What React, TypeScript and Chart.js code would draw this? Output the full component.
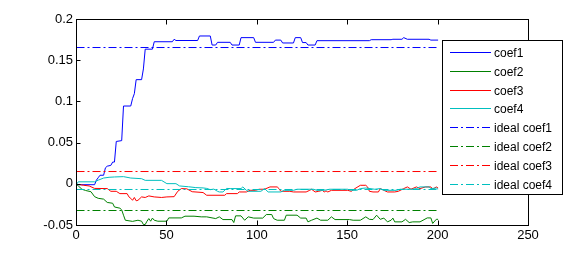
import React, { useEffect, useRef } from "react";
import { Chart, registerables } from "chart.js";
Chart.register(...registerables);

const xTicks = [0, 50, 100, 150, 200, 250];
const yTicks = [-0.05, 0, 0.05, 0.1, 0.15, 0.2];
const seriesNames = ["coef1", "coef2", "coef3", "coef4", "ideal coef1", "ideal coef2", "ideal coef3", "ideal coef4"];
const seriesColors = ["#0000ff", "#008000", "#ff0000", "#00bfbf"];

const coef1: [number, number][] = [
  [0, 0], [1, -0.0005], [10, -0.0005], [11, 0.005], [12, 0.008], [13, 0.011], [15, 0.011], [16, 0.02], [17, 0.022],
  [19, 0.023], [20, 0.027], [21, 0.027], [22, 0.052], [25, 0.053], [26, 0.095], [30, 0.095], [31, 0.104], [32, 0.11],
  [33, 0.127], [36, 0.127], [37, 0.14], [38, 0.164], [42, 0.164], [43, 0.173], [53, 0.173], [54, 0.176], [55, 0.1745],
  [67, 0.1745], [68, 0.18], [74, 0.18], [75, 0.169], [77, 0.169], [78, 0.1723], [85, 0.1723], [86, 0.169], [90, 0.169],
  [91, 0.178], [98, 0.178], [99, 0.1723], [109, 0.1723], [110, 0.175], [113, 0.175], [114, 0.1715], [120, 0.1715],
  [121, 0.178], [124, 0.178], [125, 0.172], [127, 0.172], [128, 0.169], [132, 0.169], [133, 0.1743], [162, 0.1743],
  [163, 0.1755], [174, 0.1755], [175, 0.176], [180, 0.176], [181, 0.178], [183, 0.176], [195, 0.176], [196, 0.175], [200, 0.175],
];

const coef2: [number, number][] = [
  [0, 0], [1, -0.002], [3, -0.006], [5, -0.0075], [8, -0.009], [10, -0.015], [12, -0.017], [15, -0.018], [17, -0.022],
  [20, -0.023], [21, -0.0275], [24, -0.029], [25, -0.031], [26, -0.0375], [27, -0.0436], [31, -0.045], [34, -0.0436],
  [36, -0.0448], [37, -0.0488], [38, -0.0488], [39, -0.0448], [40, -0.0416], [41, -0.0448], [42, -0.041], [43, -0.0436],
  [45, -0.0448], [50, -0.0448], [51, -0.0408], [58, -0.0408], [60, -0.0387], [65, -0.0387], [69, -0.0395], [72, -0.0395],
  [77, -0.0416], [79, -0.0395], [81, -0.0428], [86, -0.0428], [87, -0.0464], [88, -0.0383], [91, -0.0383], [93, -0.0436],
  [95, -0.0395], [98, -0.041], [103, -0.041], [105, -0.0367], [108, -0.0367], [109, -0.0416], [111, -0.0436], [115, -0.0436],
  [116, -0.0375], [122, -0.0375], [124, -0.041], [127, -0.041], [128, -0.0456], [130, -0.0436], [133, -0.041], [135, -0.0436],
  [139, -0.0436], [141, -0.0395], [143, -0.0428], [151, -0.0428], [153, -0.0436], [157, -0.0436], [160, -0.0395],
  [162, -0.0425], [164, -0.0428], [166, -0.0375], [168, -0.0425], [170, -0.041], [172, -0.0456], [174, -0.0436],
  [175, -0.041], [176, -0.0456], [180, -0.0456], [182, -0.0425], [184, -0.0464], [186, -0.0456], [190, -0.0456],
  [194, -0.0408], [196, -0.0408], [197, -0.0475], [199, -0.0425], [200, -0.0425],
];

const coef3: [number, number][] = [
  [0, 0], [2, -0.0005], [4, -0.0012], [7, -0.002], [10, -0.005], [17, -0.0052], [19, -0.0085], [22, -0.0085],
  [24, -0.0113], [28, -0.0113], [29, -0.0153], [30, -0.017], [31, -0.0194], [32, -0.016], [33, -0.02], [34, -0.0194],
  [36, -0.0153], [38, -0.016], [40, -0.0141], [43, -0.0153], [47, -0.016], [50, -0.0153], [54, -0.015], [56, -0.0085],
  [58, -0.0052], [61, -0.0055], [64, -0.009], [70, -0.01], [72, -0.0133], [82, -0.0133], [83, -0.0113], [89, -0.0113],
  [90, -0.0093], [94, -0.0093], [96, -0.0073], [99, -0.0073], [101, -0.006], [104, -0.006], [107, -0.0032], [111, -0.0032],
  [112, -0.0052], [113, -0.0085], [118, -0.0085], [120, -0.0093], [127, -0.0093], [129, -0.0073], [130, -0.006],
  [132, -0.0093], [134, -0.0085], [136, -0.0073], [137, -0.0093], [138, -0.008], [139, -0.0093], [141, -0.0073],
  [150, -0.0073], [152, -0.0085], [154, -0.0052], [157, -0.0012], [160, -0.0012], [161, -0.0032], [162, -0.0085],
  [164, -0.0093], [167, -0.0093], [168, -0.0052], [170, -0.0073], [172, -0.0093], [176, -0.0093], [178, -0.0085],
  [181, -0.0052], [183, -0.0032], [185, -0.006], [188, -0.0032], [190, -0.0052], [193, -0.0032], [196, -0.0032],
  [197, -0.006], [199, -0.0032], [200, -0.0045],
];

const coef4: [number, number][] = [
  [0, 0], [1, 0.003], [10, 0.003], [12, 0.005], [15, 0.0076], [18, 0.0085], [21, 0.0089], [26, 0.0093], [30, 0.0076],
  [36, 0.0068], [38, 0.0048], [47, 0.0048], [50, 0.0008], [55, 0.0008], [57, -0.002], [62, -0.003], [66, -0.004],
  [70, -0.0044], [72, -0.005], [74, -0.0065], [76, -0.0058], [78, -0.0085], [79, -0.0093], [81, -0.0093], [83, -0.005],
  [85, -0.0052], [91, -0.0052], [92, -0.0032], [94, -0.0073], [95, -0.0085], [102, -0.0085], [104, -0.0052],
  [106, -0.0093], [113, -0.0093], [115, -0.0073], [120, -0.0073], [122, -0.006], [131, -0.006], [133, -0.0073],
  [137, -0.0073], [140, -0.006], [150, -0.006], [152, -0.0073], [155, -0.0073], [157, -0.0052], [160, -0.0045],
  [165, -0.006], [168, -0.0052], [170, -0.0073], [177, -0.0073], [179, -0.006], [186, -0.006], [188, -0.0052],
  [190, -0.0032], [195, -0.0032], [196, -0.0052], [199, -0.0045], [200, -0.006],
];

const idealRange = [0, 200];
const idealValues = [0.166, -0.0318, 0.0155, -0.0063];

const FONT = "'Liberation Sans', Arial, Helvetica, sans-serif";
const DASH = [8, 3, 2, 3];

const framePlugin = {
  id: "matlabFrame",
  beforeDatasetsDraw(chart: any) {
    chart.ctx.save();
    chart.ctx.translate(0.5, 0.5);
  },
  afterDatasetsDraw(chart: any) {
    const ctx = chart.ctx;
    ctx.restore();
    const { left, right, top, bottom } = chart.chartArea;
    const xs = chart.scales.x;
    const ys = chart.scales.y;
    ctx.save();
    ctx.strokeStyle = "#000";
    ctx.lineWidth = 1;
    ctx.setLineDash([]);
    const L = Math.round(left) + 0.5, R = Math.round(right) + 0.5, T = Math.round(top) + 0.5, B = Math.round(bottom) + 0.5;
    ctx.strokeRect(L, T, R - L, B - T);
    ctx.beginPath();
    xTicks.forEach((v) => {
      const px = Math.round(xs.getPixelForValue(v)) + 0.5;
      ctx.moveTo(px, B); ctx.lineTo(px, B - 5);
      ctx.moveTo(px, T); ctx.lineTo(px, T + 5);
    });
    yTicks.forEach((v) => {
      const py = Math.round(ys.getPixelForValue(v)) + 0.5;
      ctx.moveTo(L, py); ctx.lineTo(L + 4, py);
      ctx.moveTo(R, py); ctx.lineTo(R - 4, py);
    });
    ctx.stroke();
    ctx.restore();
  },
  afterDraw(chart: any) {
    const ctx = chart.ctx;
    ctx.save();
    const bx = 442, by = 40, bw = 120, bh = 154;
    ctx.fillStyle = "#fff";
    ctx.fillRect(bx, by, bw, bh);
    ctx.strokeStyle = "#000";
    ctx.lineWidth = 1;
    ctx.setLineDash([]);
    ctx.strokeRect(bx + 0.5, by + 0.5, bw, bh);
    ctx.font = `12px ${FONT}`;
    ctx.textBaseline = "middle";
    ctx.textAlign = "left";
    ctx.fillStyle = "#000";
    seriesNames.forEach((name, i) => {
      const y = Math.round(52 + i * 18.8) + 0.5;
      ctx.strokeStyle = seriesColors[i % 4];
      ctx.setLineDash(i >= 4 ? DASH : []);
      ctx.beginPath();
      ctx.moveTo(450, y);
      ctx.lineTo(491, y);
      ctx.stroke();
      ctx.fillText(name, 494, y + 1);
    });
    ctx.restore();
  },
};

export default function App() {
  const ref = useRef<HTMLCanvasElement | null>(null);
  useEffect(() => {
    if (!ref.current) return;
    const series = [coef1, coef2, coef3, coef4];
    const datasets: any[] = series.map((s, i) => ({
      label: seriesNames[i],
      data: s.map(([x, y]) => ({ x, y })),
      borderColor: seriesColors[i],
      borderWidth: 1,
      pointRadius: 0,
      tension: 0,
      fill: false,
      order: 8 - i,
    }));
    idealValues.forEach((v, i) => {
      datasets.push({
        label: seriesNames[4 + i],
        data: idealRange.map((x) => ({ x, y: v })),
        borderColor: seriesColors[i],
        borderWidth: 1,
        borderDash: DASH,
        pointRadius: 0,
        tension: 0,
        fill: false,
        order: 4 - i,
      });
    });
    const chart = new Chart(ref.current, {
      type: "line",
      data: { datasets },
      options: {
        animation: false,
        responsive: true,
        maintainAspectRatio: false,
        layout: { padding: { top: 19, right: 55, bottom: 0, left: 0 } },
        plugins: { legend: { display: false }, tooltip: { enabled: false } },
        scales: {
          x: {
            type: "linear",
            min: 0,
            max: 250,
            grid: { display: false, drawTicks: false },
            border: { display: false },
            ticks: {
              color: "#000",
              font: { family: FONT, size: 13 },
              padding: 3,
              maxRotation: 0,
              autoSkip: false,
              callback: (v: any) => String(v),
            },
            afterBuildTicks: (s: any) => {
              s.ticks = xTicks.map((v) => ({ value: v }));
            },
            afterFit: (s: any) => {
              s.height = 28;
            },
          },
          y: {
            type: "linear",
            min: -0.05,
            max: 0.2,
            grid: { display: false, drawTicks: false },
            border: { display: false },
            ticks: {
              color: "#000",
              font: { family: FONT, size: 13 },
              padding: 3,
              autoSkip: false,
              callback: (v: any) => String(Number(Number(v).toFixed(4))),
            },
            afterBuildTicks: (s: any) => {
              s.ticks = yTicks.map((v) => ({ value: v }));
            },
            afterFit: (s: any) => {
              s.width = 76;
            },
          },
        },
      },
      plugins: [framePlugin],
    });
    return () => chart.destroy();
  }, []);
  return (
    <div style={{ position: "absolute", left: 0, top: 0, width: 583, height: 253, background: "#fff" }}>
      <canvas ref={ref} />
    </div>
  );
}
